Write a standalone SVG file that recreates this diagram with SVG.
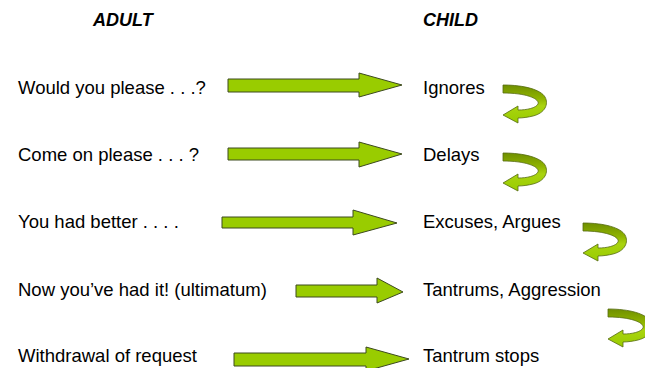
<svg xmlns="http://www.w3.org/2000/svg" width="645" height="368" viewBox="0 0 645 368">
<style>
text{font-family:"Liberation Sans",Arial,sans-serif;font-size:18.5px;fill:#000}
.h{font-weight:bold;font-style:italic;font-size:18px}
.arr{fill:#99cc00;stroke:#3d4a1f;stroke-width:1}
.curl{fill:url(#cg);stroke:#556b10;stroke-width:0.8}
</style>
<defs>
<linearGradient id="cg" x1="0" y1="0" x2="0" y2="1">
<stop offset="0" stop-color="#6f8f00"/>
<stop offset="0.35" stop-color="#8fb300"/>
<stop offset="0.55" stop-color="#a9d40f"/>
<stop offset="1" stop-color="#99cc00"/>
</linearGradient>
<path id="curlShape" d="M0,0 C22,0 38,5 42,12 C46,19 42,28 30,31 C26,32 20,33 15,33 L15,38 L0,30 L15,21 L15,25 C24,25 33,23 35,19 C37,14 24,8 0,8 Z"/>
</defs>
<g id="headers">
<text class="h" x="93" y="26">ADULT</text>
<text class="h" x="423" y="26">CHILD</text>
</g>
<g id="row1">
<text x="18" y="94">Would you please . . .?</text>
<text x="423" y="94">Ignores</text>
</g>
<g id="row2">
<text x="18" y="161">Come on please . . . ?</text>
<text x="423" y="161">Delays</text>
</g>
<g id="row3">
<text x="18" y="228">You had better . . . .</text>
<text x="423" y="228">Excuses, Argues</text>
</g>
<g id="row4">
<text x="18" y="296">Now you’ve had it! (ultimatum)</text>
<text x="423" y="296">Tantrums, Aggression</text>
</g>
<g id="row5">
<text x="18" y="362">Withdrawal of request</text>
<text x="423" y="362">Tantrum stops</text>
</g>
<g id="connectors">
<polygon class="arr" points="228,79 359,79 359,73 402,85 359,97 359,92 228,92"/>
<polygon class="arr" points="228,148 359,148 359,142 402,154 359,167 359,160 228,160"/>
<polygon class="arr" points="222,217 353,217 353,210 397,223 353,235 353,228 222,228"/>
<polygon class="arr" points="296,285 377,285 377,278 403,292 377,303 377,297 296,297"/>
<polygon class="arr" points="234,353 366,353 366,347 409,359 366,371 366,366 234,366"/>
<use href="#curlShape" class="curl" transform="translate(503,85)"/>
<use href="#curlShape" class="curl" transform="translate(503,153)"/>
<use href="#curlShape" class="curl" transform="translate(583,223)"/>
<use href="#curlShape" class="curl" transform="translate(608,309)"/>
</g>
</svg>
